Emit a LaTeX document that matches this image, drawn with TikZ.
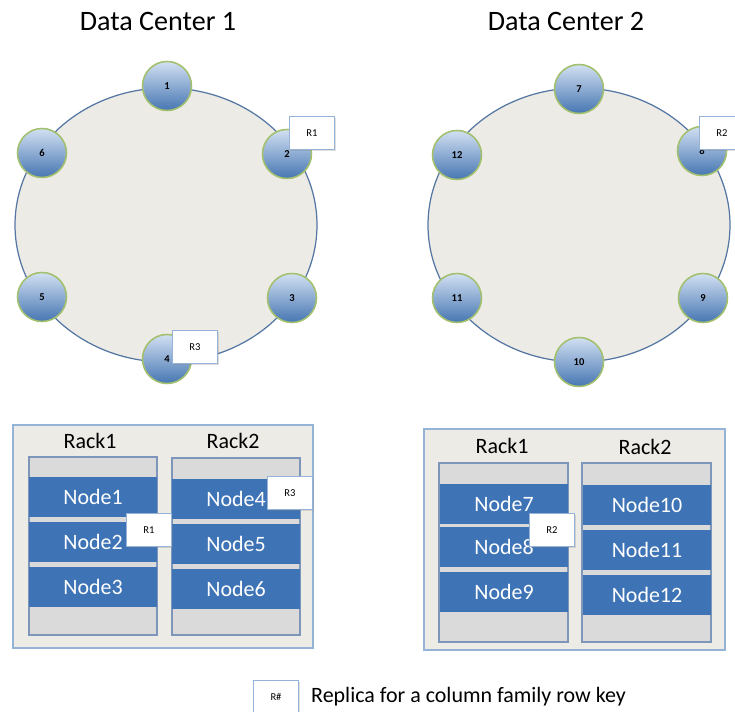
\documentclass[tikz,border=0pt]{standalone}
\usepackage{fontspec}
\setmainfont{Carlito}
\usetikzlibrary{shadows}
\definecolor{ringfill}{RGB}{237,235,229}
\definecolor{ringline}{RGB}{84,118,163}
\definecolor{ballgreen}{RGB}{163,192,110}
\definecolor{balltop}{RGB}{210,224,242}
\definecolor{ballbot}{RGB}{70,118,178}
\definecolor{boxline}{RGB}{149,179,215}
\definecolor{rackgrey}{RGB}{218,218,218}
\definecolor{rackline}{RGB}{125,150,185}
\definecolor{nodeblue}{RGB}{62,116,182}
\tikzset{
	ring/.style = {fill=ringfill, draw=ringline, line width=0.7pt},
	ringnode/.style = {circle, minimum size=0.98cm, inner sep=0pt, draw=ballgreen, line width=0.9pt,
		top color=balltop, bottom color=ballbot, font=\fontsize{6}{7}\selectfont\bfseries},
	replica/.style = {draw=boxline, fill=white, line width=0.8pt, minimum width=0.9cm, minimum height=0.66cm,
		inner sep=0pt, font=\fontsize{6}{7}\selectfont,
		drop shadow={opacity=0.25, shadow xshift=0.6pt, shadow yshift=-0.6pt}},
	dcbox/.style = {fill=ringfill, draw=boxline, line width=0.9pt},
	rack/.style = {fill=rackgrey, draw=rackline, line width=0.7pt},
	server/.style = {fill=nodeblue, text=white, minimum width=2.56cm, minimum height=0.8cm, inner sep=0pt,
		font=\fontsize{12.5}{14}\selectfont},
	dctitle/.style = {font=\fontsize{16}{19}\selectfont},
	racklabel/.style = {font=\fontsize{12.5}{14}\selectfont}
}

\begin{document}
\begin{tikzpicture}[x=0.02cm, y=-0.02cm]
	\clip (0,0) rectangle (735,712);
	% ====== Titles ========
	\node[dctitle] (t1) at (158,21) {Data Center 1};
	\node[dctitle] (t2) at (566,21) {Data Center 2};
	% ====== Rings ========
	\coordinate (C1) at (166,225);
	\coordinate (C2) at (579,225);
	\foreach \c in {C1,C2} {\draw[ring] (\c) ellipse [x radius=151, y radius=137];}
	\foreach \n/\x/\y in {1/167/86, 2/287/154, 3/292/298, 4/167/359, 5/42/297, 6/42/153,
		7/579/89, 8/702/151, 9/703/298, 10/579/362, 11/457/298, 12/457/155}
		{\node[ringnode] (c\n) at (\x,\y) {\n};}
	\node[replica] (r1a) at (312,133) {R1};
	\node[replica] (r3a) at (195,347) {R3};
	\node[replica] (r2a) at (722,133) {R2};
	% ====== Racks ========
	\draw[dcbox] (13,425) rectangle (313,648);
	\draw[dcbox] (424,429) rectangle (725,650);
	\foreach \xa/\ya/\xb/\yb in {29/457/157/635, 172/458/300/635, 439/463/568/642, 582/463/711/642}
		{\draw[rack] (\xa,\ya) rectangle (\xb,\yb);}
	\foreach \n/\x/\y in {1/90/441, 2/233/441, 3/502/446, 4/645/447}
		{\node[racklabel] (k\n) at (\x,\y) {Rack\ifnum\n>2 \the\numexpr\n-2\relax\else\n\fi};}
	\foreach \n/\x/\y in {1/93/497, 2/93/542, 3/93/587, 4/236/499, 5/236/544, 6/236/589,
		7/504/504, 8/504/547, 9/504/592, 10/647/505, 11/647/550, 12/647/595}
		{\node[server] (n\n) at (\x,\y) {Node\n};}
	\node[replica] (r1b) at (149,530) {R1};
	\node[replica] (r3b) at (290,493) {R3};
	\node[replica] (r2b) at (552,530) {R2};
	% ====== Legend ========
	\node[replica] (key) at (276,697) {R\#};
	\node[racklabel, anchor=west] (keytext) at (305,697) {Replica for a column family row key};
\end{tikzpicture}
\end{document}
